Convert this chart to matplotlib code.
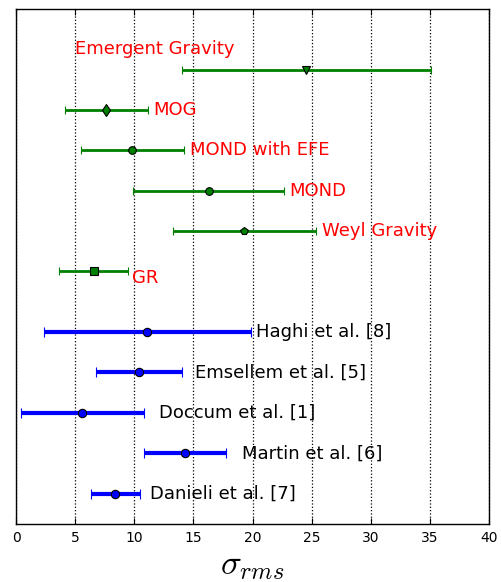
import numpy as np
import matplotlib
matplotlib.use("Agg")
import matplotlib.pyplot as plt

# theory predictions (green, red labels)
theories = ["Emergent Gravity", "MOG", "MOND with EFE", "MOND", "Weyl Gravity", "GR"]
th_val = [24.5, 7.65, 9.8, 16.3, 19.3, 6.6]
th_lo = [10.5, 3.55, 4.3, 6.4, 6.05, 2.95]
th_hi = [10.6, 3.55, 4.4, 6.4, 6.1, 2.9]
th_mark = ["v", "d", "o", "o", "p", "s"]
th_row = [11.5, 10.5, 9.5, 8.5, 7.5, 6.5]

# observational estimates (blue, black labels)
obs = ["Haghi et al. [8]", "Emsellem et al. [5]", "Doccum et al. [1]",
       "Martin et al. [6]", "Danieli et al. [7]"]
obs_val = [11.1, 10.4, 5.6, 14.3, 8.4]
obs_lo = [8.7, 3.6, 5.2, 3.5, 2.1]
obs_hi = [8.75, 3.65, 5.2, 3.5, 2.1]
obs_row = [5, 4, 3, 2, 1]

# label anchors
th_lab_x = [5.0, 11.6, 14.7, 23.1, 25.9, 9.8]
th_lab_y = [12.0, 10.5, 9.5, 8.5, 7.5, 6.35]
obs_lab_x = [20.3, 15.1, 12.1, 19.1, 11.3]

plt.rcParams.update({"mathtext.fontset": "cm"})
fig = plt.figure(figsize=(5.01, 5.82), dpi=100)
ax = fig.add_axes([0.032, 0.0997, 0.944, 0.885])

for i in range(len(theories)):
    ax.errorbar(th_val[i], th_row[i], xerr=[[th_lo[i]], [th_hi[i]]], fmt=th_mark[i],
                color="g", mfc="g", mec="k", mew=0.8, ms=5.5 if th_mark[i] != "d" else 6.5,
                lw=2, capsize=3, capthick=1, zorder=3)
    ax.text(th_lab_x[i], th_lab_y[i], theories[i], color="r", fontsize=13,
            ha="left", va="center")

for i in range(len(obs)):
    ax.errorbar(obs_val[i], obs_row[i], xerr=[[obs_lo[i]], [obs_hi[i]]], fmt="o",
                color="b", mfc="b", mec="k", mew=0.8, ms=6, lw=3, capsize=3.5,
                capthick=1.2, zorder=3)
    ax.text(obs_lab_x[i], obs_row[i], obs[i], color="k", fontsize=13,
            ha="left", va="center")

ax.set_xlim(0, 40)
ax.set_ylim(0.25, 13)
ax.set_xticks(np.arange(0, 41, 5))
ax.set_yticks([])
ax.tick_params(axis="x", direction="in", top=True, length=4, labelsize=10, pad=5)
ax.grid(axis="x", color="k", ls=":", lw=0.9)
for s in ax.spines.values():
    s.set_linewidth(1)
ax.set_xlabel(r"$\sigma_{rms}$", fontsize=25, labelpad=2)

fig.savefig("out.png", dpi=100)
